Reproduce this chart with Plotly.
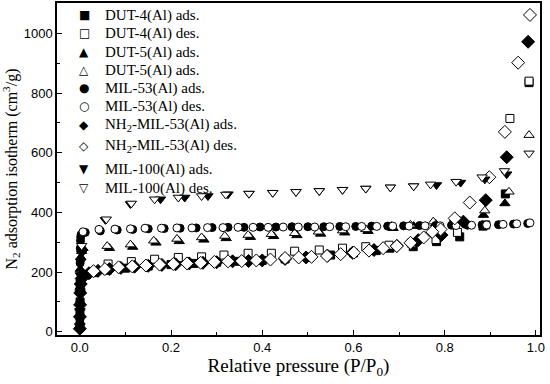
import plotly.graph_objects as go

# ---------------- data ----------------
dut4_ads_x = [0.0001, 0.0003, 0.0006, 0.001, 0.002, 0.004, 0.008, 0.015, 0.03, 0.06, 0.1, 0.15, 0.2,
              0.25, 0.3, 0.35, 0.4, 0.45, 0.5, 0.55, 0.6, 0.65, 0.68, 0.731, 0.782, 0.833, 0.884, 0.933, 0.985]
dut4_ads_y = [20, 60, 100, 140, 170, 185, 190, 192, 198, 206, 213, 220, 225,
              229, 233, 236, 239, 244, 250, 257, 264, 272, 280, 285, 302, 318, 354, 462, 835]

dut4_des_x = [0.985, 0.943, 0.89, 0.828, 0.781, 0.727, 0.678, 0.627, 0.576, 0.525, 0.471, 0.42,
              0.369, 0.316, 0.267, 0.216, 0.164, 0.113, 0.062]
dut4_des_y = [840, 715, 358, 333, 309, 297, 290, 285, 280, 274, 270, 263,
              263, 257, 251, 249, 243, 235, 227]

dut5_ads_x = [0.0001, 0.0003, 0.0006, 0.001, 0.002, 0.004, 0.007, 0.065, 0.116, 0.167, 0.218, 0.272,
              0.321, 0.374, 0.425, 0.476, 0.528, 0.581, 0.632, 0.687, 0.732, 0.78, 0.833, 0.885, 0.932]
dut5_ads_y = [30, 80, 150, 210, 250, 270, 280, 280, 284, 298, 303, 308,
              313, 317, 320, 323, 328, 332, 337, 347, 354, 362, 372, 391, 430]

dut5_des_x = [0.985, 0.941, 0.888, 0.822, 0.775, 0.725, 0.683, 0.627, 0.576, 0.523, 0.471, 0.42,
              0.369, 0.318, 0.267, 0.213, 0.162, 0.111, 0.06]
dut5_des_y = [659, 469, 406, 380, 369, 358, 354, 343, 339, 335, 330, 327,
              324, 321, 316, 311, 305, 292, 287]

mil53_ads_x = [0.0001, 0.0002, 0.0004, 0.0007, 0.001, 0.0015, 0.002, 0.003, 0.012, 0.045, 0.082,
               0.116, 0.15, 0.185, 0.22, 0.255, 0.29, 0.325, 0.36, 0.395, 0.43, 0.465, 0.5, 0.535,
               0.57, 0.605, 0.64, 0.675, 0.71, 0.745, 0.78, 0.815, 0.85, 0.882, 0.918, 0.951, 0.982]
mil53_ads_y = [40, 100, 170, 230, 280, 305, 318, 326, 333, 338, 341,
               343, 345, 346, 347, 348, 349, 350, 350, 351, 351, 352, 352, 352,
               353, 353, 354, 354, 355, 356, 356, 357, 357, 358, 359, 361, 363]

mil53_des_x = [0.987, 0.958, 0.928, 0.892, 0.859, 0.825, 0.79, 0.757, 0.722, 0.686, 0.651, 0.618,
               0.583, 0.548, 0.515, 0.479, 0.446, 0.413, 0.380, 0.347, 0.314, 0.28, 0.246, 0.213,
               0.179, 0.143, 0.111, 0.077, 0.042, 0.007]
mil53_des_y = [365, 362, 360, 358, 357, 356, 355, 355, 354, 354, 353, 353,
               352, 352, 351, 351, 351, 350, 350, 350, 349, 349, 348, 348,
               347, 347, 345, 344, 343, 335]

nh2_ads_x = [0.0001, 0.0003, 0.0006, 0.001, 0.002, 0.004, 0.008, 0.02, 0.04, 0.065, 0.09, 0.12,
             0.15, 0.18, 0.21, 0.24, 0.27, 0.30, 0.335, 0.37, 0.40, 0.45, 0.496, 0.543, 0.598,
             0.645, 0.695, 0.742, 0.793, 0.841, 0.89, 0.936, 0.983]
nh2_ads_y = [10, 50, 90, 130, 160, 178, 188, 196, 204, 210, 214, 218,
             221, 224, 226, 229, 231, 233, 236, 237, 239, 244, 249, 255, 265,
             274, 288, 307, 324, 369, 441, 585, 972]

nh2_des_x = [0.987, 0.961, 0.932, 0.898, 0.855, 0.822, 0.791, 0.773, 0.754, 0.725, 0.695, 0.665,
             0.634, 0.601, 0.572, 0.542, 0.508, 0.48, 0.45, 0.418, 0.387, 0.355, 0.325, 0.295,
             0.265, 0.235, 0.205, 0.175, 0.145, 0.115, 0.085, 0.055, 0.03]
nh2_des_y = [1062, 902, 670, 518, 433, 380, 343, 335, 316, 298, 287, 280,
             272, 265, 260, 254, 251, 249, 247, 242, 239, 237, 236, 234,
             231, 229, 227, 225, 222, 219, 216, 210, 203]

mil100_ads_x = [0.0001, 0.0003, 0.0006, 0.001, 0.002, 0.004, 0.056, 0.111, 0.177, 0.23, 0.281,
                0.325, 0.371, 0.423, 0.474, 0.525, 0.576, 0.627, 0.681, 0.732, 0.782, 0.835,
                0.888, 0.936]
mil100_ads_y = [20, 70, 130, 190, 235, 263, 375, 428, 444, 450, 455,
                461, 463, 466, 469, 472, 476, 480, 484, 488, 492, 500,
                511, 528]

mil100_des_x = [0.985, 0.931, 0.882, 0.825, 0.769, 0.732, 0.681, 0.627, 0.576, 0.525, 0.474, 0.423,
                0.371, 0.32, 0.267, 0.216, 0.164, 0.113, 0.058, 0.004]
mil100_des_y = [598, 539, 518, 503, 494, 488, 484, 480, 476, 472, 469, 466,
                463, 460, 455, 450, 444, 430, 377, 288]

legend_labels = ["DUT-4(Al) ads.", "DUT-4(Al) des.", "DUT-5(Al) ads.", "DUT-5(Al) ads.",
                 "MIL-53(Al) ads.", "MIL-53(Al) des.",
                 "NH<sub>2</sub>-MIL-53(Al) ads.", "NH<sub>2</sub>-MIL-53(Al) des.",
                 "MIL-100(Al) ads.", "MIL-100(Al) des."]
legend_glyphs = ["■", "□", "▲", "△", "●", "○", "◆", "◇", "▼", "▽"]

series = [
    (dut4_ads_x, dut4_ads_y, "square", True),
    (dut4_des_x, dut4_des_y, "square", False),
    (dut5_ads_x, dut5_ads_y, "triangle-up", True),
    (dut5_des_x, dut5_des_y, "triangle-up", False),
    (mil53_ads_x, mil53_ads_y, "circle", True),
    (mil53_des_x, mil53_des_y, "circle", False),
    (nh2_ads_x, nh2_ads_y, "diamond", True),
    (nh2_des_x, nh2_des_y, "diamond", False),
    (mil100_ads_x, mil100_ads_y, "triangle-down", True),
    (mil100_des_x, mil100_des_y, "triangle-down", False),
]
sizes = {"square": 8, "circle": 8, "triangle-up": 9, "triangle-down": 9, "diamond": 10}

fig = go.Figure()
for (xs, ys, sym, filled), name in zip(series, legend_labels):
    fig.add_trace(go.Scatter(
        x=xs, y=ys, mode="markers", name=name, showlegend=False,
        marker=dict(symbol=sym, size=sizes[sym],
                    color="black" if filled else "white",
                    line=dict(color="black", width=1)),
    ))

# legend drawn as text rows inside the plot (top-left)
W, H = 550, 384
ML, MR, MT, MB = 57, 10, 3, 49
pw, ph = W - ML - MR, H - MT - MB
row_px = [15, 33, 52, 70, 88, 106, 125, 146, 169, 188]
for glyph, label, py in zip(legend_glyphs, legend_labels, row_px):
    yp = 1 - (py - MT) / ph
    fig.add_annotation(xref="paper", yref="paper", x=(84 - ML) / pw, y=yp,
                       xanchor="center", yanchor="middle", showarrow=False,
                       text=glyph, font=dict(family="DejaVu Sans", size=12, color="black"))
    fig.add_annotation(xref="paper", yref="paper", x=(103 - ML) / pw, y=yp,
                       xanchor="left", yanchor="middle", showarrow=False,
                       text=label,
                       font=dict(family="Liberation Serif, Times New Roman", size=15, color="black"))

axis_common = dict(
    showline=True, linecolor="black", linewidth=1.5, mirror=True,
    ticks="inside", ticklen=5, tickwidth=1, tickcolor="black",
    showgrid=False, zeroline=False,
    tickfont=dict(family="Liberation Sans, Arial", size=13, color="black"),
)

fig.update_xaxes(
    range=[-0.05, 1.009], tickvals=[0, 0.2, 0.4, 0.6, 0.8, 1.0], tickformat=".1f",
    minor=dict(ticks="inside", ticklen=3, tickcolor="black", dtick=0.1, tick0=0),
    title=dict(text="Relative pressure (P/P<sub>0</sub>)",
               font=dict(family="Liberation Serif, Times New Roman", size=19, color="black"),
               standoff=4),
    **axis_common,
)
fig.update_yaxes(
    range=[-11, 1102], tickvals=[0, 200, 400, 600, 800, 1000],
    minor=dict(ticks="inside", ticklen=3, tickcolor="black", dtick=100, tick0=0),
    title=dict(text="N<sub>2</sub> adsorption isotherm (cm<sup>3</sup>/g)",
               font=dict(family="Liberation Serif, Times New Roman", size=16, color="black"),
               standoff=6),
    **axis_common,
)

fig.update_layout(
    width=W, height=H,
    margin=dict(l=ML, r=MR, t=MT, b=MB, autoexpand=False),
    paper_bgcolor="white", plot_bgcolor="white",
    showlegend=False,
)

fig.write_html("out.html", config={"displayModeBar": False},
               post_script="document.body.style.margin='0px';")
